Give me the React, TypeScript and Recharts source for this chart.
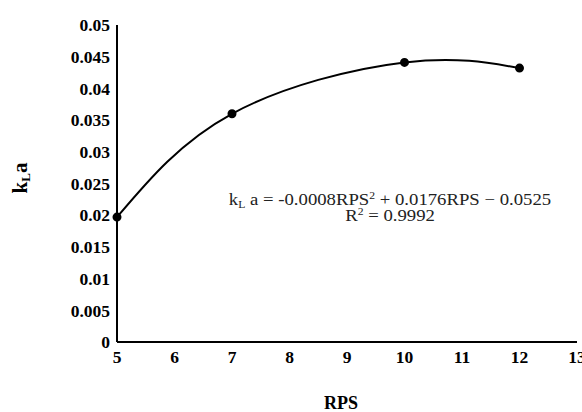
import React from "react";
import { LineChart, Line, XAxis, YAxis } from "recharts";

const rps = [5, 7, 10, 12];
const kla = [0.0197, 0.0360, 0.0441, 0.0432];
const xTicks = [5, 6, 7, 8, 9, 10, 11, 12, 13];
const yTicks = [0, 0.005, 0.01, 0.015, 0.02, 0.025, 0.03, 0.035, 0.04, 0.045, 0.05];
const equationLine = "-0.0008RPS";
const equationRest = " + 0.0176RPS − 0.0525";
const r2Text = " = 0.9992";

const data = rps.map((x, i) => ({ x, y: kla[i] }));

const font = "'Liberation Serif', 'Times New Roman', serif";

const YLabel = (props: any) => {
  const vb = props.viewBox || {};
  const cx = 27;
  const cy = 178;
  return (
    <text
      x={cx}
      y={cy}
      transform={`rotate(-90, ${cx}, ${cy})`}
      textAnchor="middle"
      fontFamily={font}
      fontWeight="bold"
      fontSize={21}
      fill="#000"
    >
      k<tspan fontSize={13} dy={3}>L</tspan>
      <tspan dy={-3}>a</tspan>
    </text>
  );
};

const XLabel = () => (
  <text x={341} y={409} textAnchor="middle" fontFamily={font} fontWeight="bold" fontSize={18} fill="#000">
    RPS
  </text>
);

const fmt = (v: number) => String(parseFloat(v.toFixed(3)));

export default function App() {
  const cx = 390;
  const sx = 1.17;
  return (
    <div style={{ position: "absolute", left: 0, top: 0, width: 582, height: 412, background: "#fff" }}>
      <LineChart width={582} height={412} data={data} margin={{ top: 25, right: 5, bottom: 0, left: 0 }}>
        <XAxis
          dataKey="x"
          type="number"
          domain={[5, 13]}
          ticks={xTicks}
          interval={0}
          axisLine={{ stroke: "#000", strokeWidth: 2 }}
          tickLine={false}
          tick={{ fill: "#000", fontFamily: font, fontWeight: "bold", fontSize: 17.5 }}
          tickMargin={3}
          height={70}
          label={<XLabel />}
        />
        <YAxis
          type="number"
          domain={[0, 0.05]}
          ticks={yTicks}
          interval={0}
          axisLine={{ stroke: "#000", strokeWidth: 2 }}
          tickLine={false}
          tickFormatter={fmt}
          tick={{ fill: "#000", fontFamily: font, fontWeight: "bold", fontSize: 17.5 }}
          tickMargin={1}
          width={117}
          label={<YLabel />}
        />
        <Line
          dataKey="y"
          type="natural"
          stroke="#000"
          strokeWidth={2}
          dot={{ r: 3.5, fill: "#000", stroke: "#000" }}
          isAnimationActive={false}
        />
      </LineChart>
      <svg
        width={582}
        height={412}
        style={{ position: "absolute", left: 0, top: 0, pointerEvents: "none" }}
      >
        <g transform={`translate(${cx},0) scale(${sx},1) translate(${-cx},0)`} fontFamily={font} fontSize={16} fill="#222">
          <text x={cx} y={205.5} textAnchor="middle">
            k<tspan fontSize={10} dy={3}>L</tspan>
            <tspan dy={-3}> a = {equationLine}</tspan>
            <tspan fontSize={10} dy={-6}>2</tspan>
            <tspan dy={6}>{equationRest}</tspan>
          </text>
          <text x={cx} y={221.5} textAnchor="middle">
            R<tspan fontSize={10} dy={-6}>2</tspan>
            <tspan dy={6}>{r2Text}</tspan>
          </text>
        </g>
      </svg>
    </div>
  );
}
